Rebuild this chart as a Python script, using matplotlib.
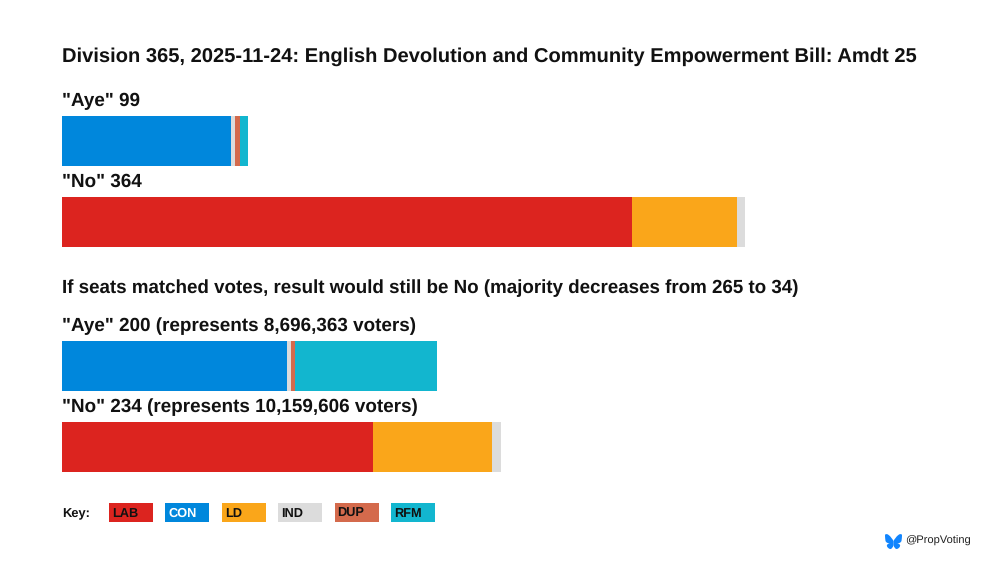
import matplotlib
matplotlib.use('Agg')
import matplotlib.pyplot as plt
from matplotlib.path import Path
from matplotlib.patches import PathPatch

plt.rcParams['font.family'] = ['Liberation Sans', 'DejaVu Sans']
plt.rcParams['text.hinting'] = 'no_hinting'

# party colours
parties = ['LAB', 'CON', 'LD', 'IND', 'DUP', 'RFM']
colours = ['#DC241F', '#0087DC', '#FAA61A', '#DCDCDC', '#D46A4C', '#12B6CF']

# seats per party, same order as parties
actual_aye = [0, 90, 0, 2, 3, 4]
actual_no = [304, 0, 56, 4, 0, 0]
scaled_aye = [0, 120, 0, 2, 2, 76]
scaled_no = [166, 0, 63, 5, 0, 0]

title = 'Division 365, 2025-11-24: English Devolution and Community Empowerment Bill: Amdt 25'
label_actual_aye = '"Aye" 99'
label_actual_no = '"No" 364'
subtitle = 'If seats matched votes, result would still be No (majority decreases from 265 to 34)'
label_scaled_aye = '"Aye" 200 (represents 8,696,363 voters)'
label_scaled_no = '"No" 234 (represents 10,159,606 voters)'

# pixels per seat and left edge of the bars
SCALE = 1.876
LEFT = 62

fig = plt.figure(figsize=(10, 5.63), dpi=100)
ax = fig.add_axes([0, 0, 1, 1])
ax.set_xlim(0, 1000)
ax.set_ylim(563, 0)
ax.axis('off')


# stacked horizontal bar, one segment per party
def draw_bar(seats, top):
    x = LEFT
    for n, c in zip(seats, colours):
        if n > 0:
            ax.barh(top + 25, n * SCALE, height=50, left=x, color=c, linewidth=0)
            x += n * SCALE


draw_bar(actual_aye, 116)
draw_bar(actual_no, 197)
draw_bar(scaled_aye, 341)
draw_bar(scaled_no, 422)

# headings
ax.text(LEFT, 57, title, fontsize=14.49, fontweight='bold', va='center', color='#111111')
ax.text(LEFT, 101, label_actual_aye, fontsize=13.6, fontweight='bold', va='center', color='#111111')
ax.text(LEFT, 182, label_actual_no, fontsize=13.6, fontweight='bold', va='center', color='#111111')
ax.text(LEFT, 288, subtitle, fontsize=13.5, fontweight='bold', va='center', color='#111111')
ax.text(LEFT, 326, label_scaled_aye, fontsize=13.6, fontweight='bold', va='center', color='#111111')
ax.text(LEFT, 407, label_scaled_no, fontsize=13.6, fontweight='bold', va='center', color='#111111')

# key
ax.text(LEFT, 517, 'Key:', fontsize=9.3, fontweight='bold', va='baseline', color='#111111')
for i, (p, c) in enumerate(zip(parties, colours)):
    x = 109 + i * 56.4
    ax.barh(512.5, 44, height=19, left=x, color=c, linewidth=0)
    ax.text(x + 3, 517, p, fontsize=9.2, fontweight='bold', va='baseline',
            color='white' if p == 'CON' else '#111111')

# bluesky butterfly logo
wing = [(13.873, 3.805), (21.21, 9.332), (29.103, 20.537), (32, 26.55), (32, 42.432),
        (32, 42.094), (31.87, 42.476), (31.59, 43.299),
        (30.078, 47.755), (24.172, 65.146), (10.667, 51.243),
        (3.556, 43.923), (6.848, 36.603), (19.792, 34.393),
        (12.387, 35.657), (4.062, 33.568), (1.778, 25.378),
        (1.12, 23.022), (0, 8.51), (0, 6.55),
        (0, -3.268), (8.579, -0.182), (13.873, 3.805)]
codes = [Path.MOVETO] + [Path.CURVE4] * 3 + [Path.LINETO] + [Path.CURVE4] * 18
k = 17 / 64
for mirror in [False, True]:
    pts = [(885 + k * (64 - a if mirror else a), 534 + k * b) for a, b in wing]
    ax.add_patch(PathPatch(Path(pts, codes), facecolor='#1185FE', edgecolor='none'))

ax.text(905, 544, '@PropVoting', fontsize=8, va='baseline', color='#222222')

fig.savefig('out.png', dpi=100)
